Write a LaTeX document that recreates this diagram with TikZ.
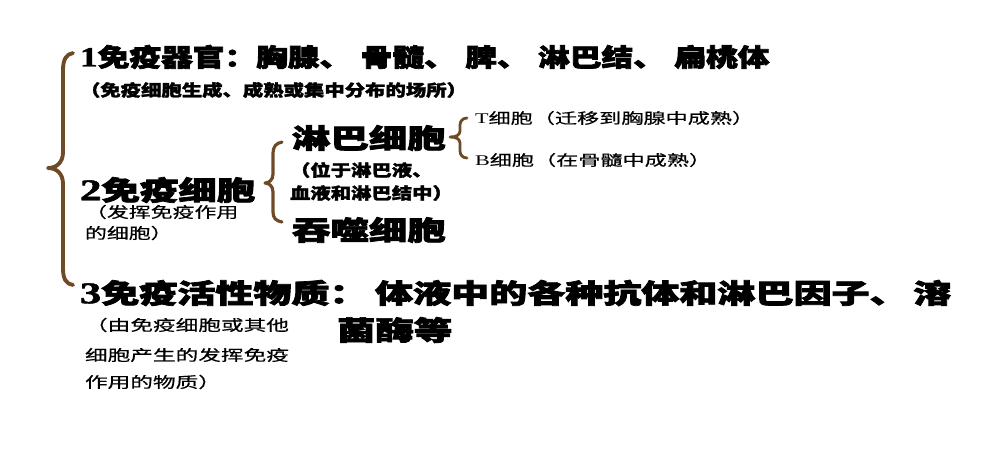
\documentclass[tikz,border=0pt]{standalone}
\usepackage{graphicx}
\usepackage{fontspec}
\newfontfamily\heavyf[FakeBold=2.6]{Noto Sans CJK SC Black}
\newfontfamily\boldf[FakeBold=1.6]{Noto Sans CJK SC Black}
\newfontfamily\regf[FakeBold=0.4]{Noto Sans CJK SC}
\newfontfamily\digitf[FakeBold=1.5]{Liberation Serif}
\newfontfamily\latinf{Liberation Serif}
\definecolor{bracebrown}{RGB}{110,75,38}
\newcommand\wide[2]{\scalebox{#1}[1]{#2}}
\newcommand\dg[1]{{\digitf\bfseries\fontsize{1.12\dimexpr\fontdimen6\font\relax}{1em}\selectfont #1}}
\begin{document}
\begin{tikzpicture}[x=0.02cm,y=-0.02cm,
  every node/.style={inner sep=0pt, outer sep=0pt, anchor=west, text=black},
  headA/.style={font=\heavyf\fontsize{14.2}{16}\selectfont},
  headB/.style={font=\heavyf\fontsize{15.3}{17}\selectfont},
  noteB/.style={font=\boldf\fontsize{9.2}{11}\selectfont},
  noteR/.style={font=\regf\fontsize{8.6}{10}\selectfont},
  noteT/.style={font=\regf\fontsize{8.4}{10}\selectfont},
  bracestroke/.style={draw=bracebrown, line width=2.2pt, line cap=round, line join=round}]
\useasboundingbox (0,0) rectangle (1000,458);
% braces
\draw[bracestroke] (73,53) .. controls (66,54) and (63,60) .. (63,70) -- (63,152)
  .. controls (63,163) and (56,168) .. (48,168)
  .. controls (56,168) and (63,173) .. (63,184) -- (63,268)
  .. controls (63,279) and (66,284) .. (73,285);
\draw[bracestroke, line width=1.8pt] (282,142) .. controls (276,143) and (273,147) .. (273,153) -- (273,174)
  .. controls (273,180) and (269,183) .. (265,183)
  .. controls (269,183) and (273,186) .. (273,192) -- (273,212)
  .. controls (273,218) and (276,221) .. (282,222);
\draw[bracestroke, line width=1.6pt] (467,118) .. controls (463,118) and (460,121) .. (460,125) -- (460,131)
  .. controls (460,135) and (456,137) .. (450,137)
  .. controls (456,137) and (460,139) .. (460,143) -- (460,151)
  .. controls (460,155) and (463,158) .. (467,158);
% texts
\node[headA] (t1) at (80,57) {\wide{1.27}{\dg{1}免疫器官：胸腺、\hspace{0.3em}骨髓、\hspace{0.3em}脾、\hspace{0.3em}淋巴结、\hspace{0.3em}扁桃体}};
\node[noteB] (t1n) at (80,90) {\wide{1.26}{（免疫细胞生成、成熟或集中分布的场所）}};
\node[headB] (t2) at (80,190) {\wide{1.43}{\dg{2}免疫细胞}};
\node[noteR] (t2n1) at (85,212) {\wide{1.45}{（发挥免疫作用}};
\node[noteR] (t2n2) at (85,233) {\wide{1.45}{的细胞）}};
\node[headB] (lb) at (292,138) {\wide{1.43}{淋巴细胞}};
\node[noteB] (lbn1) at (290,170) {\wide{1.26}{（位于淋巴液、}};
\node[noteB] (lbn2) at (290,193) {\wide{1.26}{血液和淋巴结中）}};
\node[headB] (ts) at (292,230) {\wide{1.43}{吞噬细胞}};
\node[noteT] (tc) at (475,118) {\wide{1.5}{{\latinf T}细胞（迁移到胸腺中成熟）}};
\node[noteT] (bc) at (475,160) {\wide{1.5}{{\latinf B}细胞（在骨髓中成熟）}};
\node[headB] (t3) at (80,293) {\wide{1.415}{\dg{3}免疫活性物质：\hspace{0.2em}体液中的各种抗体和淋巴因子、\hspace{0.15em}溶}};
\node[headB] (t3b) at (337,330) {\wide{1.43}{菌酶等}};
\node[noteR] (t3n1) at (85,325) {\wide{1.5}{（由免疫细胞或其他}};
\node[noteR] (t3n2) at (85,355) {\wide{1.5}{细胞产生的发挥免疫}};
\node[noteR] (t3n3) at (85,382) {\wide{1.5}{作用的物质）}};
\end{tikzpicture}
\end{document}
